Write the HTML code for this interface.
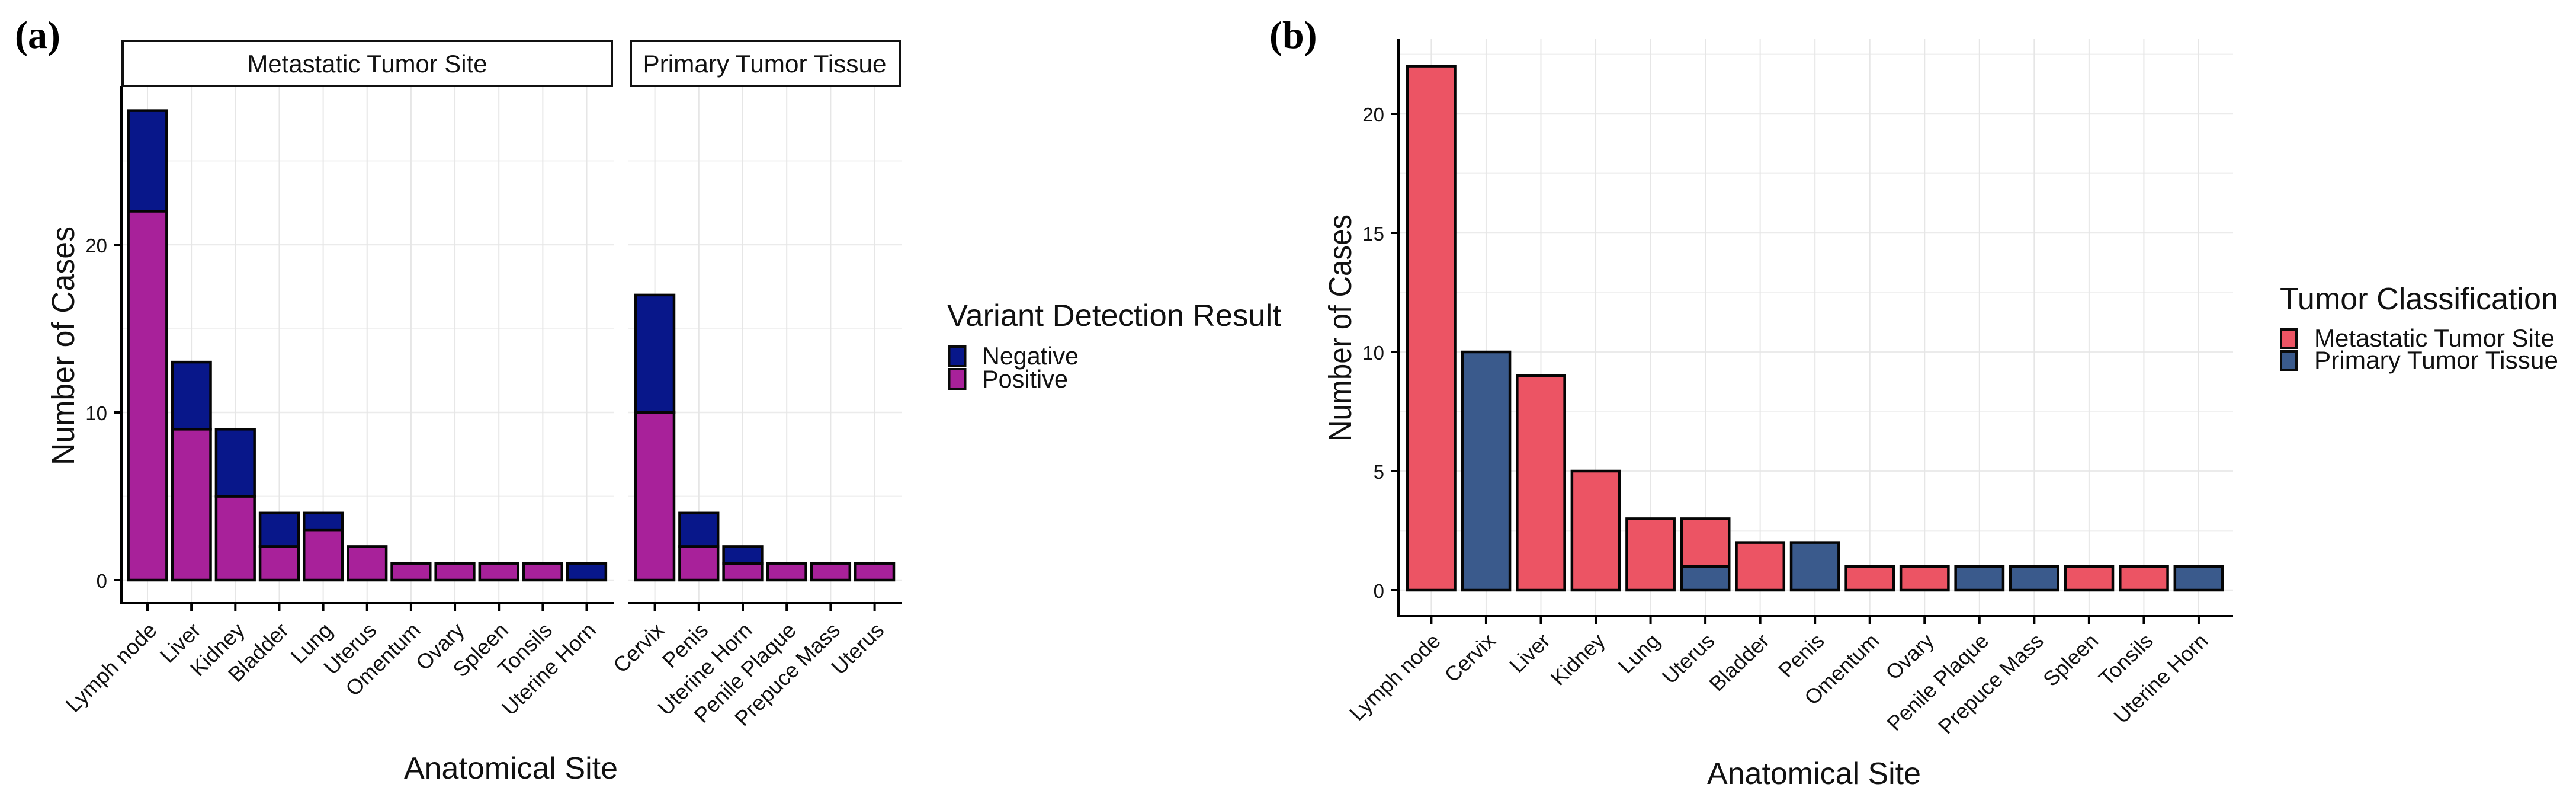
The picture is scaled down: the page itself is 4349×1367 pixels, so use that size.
<!DOCTYPE html>
<html lang="en">
<head>
<meta charset="utf-8">
<title>Anatomical site charts</title>
<style>
html,body{margin:0;padding:0;background:#fff;width:4349px;height:1367px;overflow:hidden}
svg{display:block}
text{font-family:"Liberation Sans",Arial,sans-serif;fill:#111}
.serif{font-family:"Liberation Serif",serif;font-weight:bold;fill:#000}
</style>
</head>
<body>
<svg id="figure" xmlns="http://www.w3.org/2000/svg" width="4349" height="1367" viewBox="0 0 4349 1367">
  <rect width="4349" height="1367" fill="#fff"/>
  <g id="chart-a"></g>
  <g id="chart-b"></g>

  <text class="serif" x="25" y="81" font-size="66">(a)</text>
  <text class="serif" x="2143" y="81" font-size="66">(b)</text>

  <rect x="207" y="69" width="826" height="76" fill="#fff" stroke="#111" stroke-width="4"/>
  <text x="620" y="122" font-size="42" text-anchor="middle" textLength="405" lengthAdjust="spacingAndGlyphs">Metastatic Tumor Site</text>
  <rect x="1065" y="69" width="454" height="76" fill="#fff" stroke="#111" stroke-width="4"/>
  <text x="1291" y="122" font-size="42" text-anchor="middle" textLength="411" lengthAdjust="spacingAndGlyphs">Primary Tumor Tissue</text>

  <text transform="translate(125,583.5) rotate(-90)" font-size="54" text-anchor="middle" textLength="403" lengthAdjust="spacingAndGlyphs">Number of Cases</text>
  <text x="862.5" y="1314" font-size="52" text-anchor="middle" textLength="361" lengthAdjust="spacingAndGlyphs">Anatomical Site</text>
  <text transform="translate(2281,553.5) rotate(-90)" font-size="54" text-anchor="middle" textLength="383" lengthAdjust="spacingAndGlyphs">Number of Cases</text>
  <text x="3062.5" y="1323" font-size="52" text-anchor="middle" textLength="361" lengthAdjust="spacingAndGlyphs">Anatomical Site</text>

  <g>
    <text x="1599" y="550" font-size="52" textLength="564" lengthAdjust="spacingAndGlyphs">Variant Detection Result</text>
    <rect x="1602.5" y="585" width="27" height="33" fill="#08178A" stroke="#0a0a0a" stroke-width="4"/>
    <rect x="1602.5" y="623" width="27" height="33" fill="#A8219A" stroke="#0a0a0a" stroke-width="4"/>
    <text x="1658" y="615" font-size="41.5" textLength="163" lengthAdjust="spacingAndGlyphs">Negative</text>
    <text x="1658" y="654" font-size="41.5" textLength="145" lengthAdjust="spacingAndGlyphs">Positive</text>
  </g>
  <g>
    <text x="3849" y="522" font-size="52" textLength="470" lengthAdjust="spacingAndGlyphs">Tumor Classification</text>
    <rect x="3851" y="556" width="26" height="31" fill="#EC5464" stroke="#0a0a0a" stroke-width="4"/>
    <rect x="3851" y="593" width="26" height="31" fill="#3A5A8C" stroke="#0a0a0a" stroke-width="4"/>
    <text x="3907" y="585" font-size="41.5" textLength="406" lengthAdjust="spacingAndGlyphs">Metastatic Tumor Site</text>
    <text x="3907" y="622" font-size="41.5" textLength="412" lengthAdjust="spacingAndGlyphs">Primary Tumor Tissue</text>
  </g>
</svg>

<script>
/* Chart (a): variant detection result by anatomical site */
const metastaticSites = ["Lymph node","Liver","Kidney","Bladder","Lung","Uterus","Omentum","Ovary","Spleen","Tonsils","Uterine Horn"];
const metastaticPositive = [22,9,5,2,3,2,1,1,1,1,0];
const metastaticNegative = [6,4,4,2,1,0,0,0,0,0,1];
const primarySites = ["Cervix","Penis","Uterine Horn","Penile Plaque","Prepuce Mass","Uterus"];
const primaryPositive = [10,2,1,1,1,1];
const primaryNegative = [7,2,1,0,0,0];
const chartATicks = [0,10,20];
const chartAMinorTicks = [5,15,25];

/* Chart (b): tumor classification by anatomical site */
const allSites = ["Lymph node","Cervix","Liver","Kidney","Lung","Uterus","Bladder","Penis","Omentum","Ovary","Penile Plaque","Prepuce Mass","Spleen","Tonsils","Uterine Horn"];
const metastaticCases = [22,0,9,5,3,2,2,0,1,1,0,0,1,1,0];
const primaryCases = [0,10,0,0,0,1,0,2,0,0,1,1,0,0,1];
const chartBTicks = [0,5,10,15,20];
const chartBMinorTicks = [2.5,7.5,12.5,17.5,22.5];

const SVGNS = "http://www.w3.org/2000/svg";
const NAVY = "#08178A", PURPLE = "#A8219A", CORAL = "#EC5464", STEEL = "#3A5A8C";

function mk(tag, attrs, parent) {
  const el = document.createElementNS(SVGNS, tag);
  for (const k in attrs) el.setAttribute(k, attrs[k]);
  parent.appendChild(el);
  return el;
}
function slug(s) { return String(s).toLowerCase().replace(/[^a-z0-9]+/g, "-"); }

/* axis scales */
function yScale(zeroY, pxPerUnit) { return v => zeroY - v * pxPerUnit; }
function xScale(firstX, step) { return i => firstX + i * step; }

function drawPanel(root, p) {
  const y = yScale(p.zeroY, p.pxPerUnit);
  const x = xScale(p.firstX, p.step);
  const barW = p.step * 0.9 - p.barTrim;

  /* gridlines */
  p.minor.forEach(v => {
    const l = mk("line", {x1:p.left, x2:p.right, y1:y(v), y2:y(v), stroke:"#f1f1f1", "stroke-width":2}, root);
    
    
  });
  p.major.forEach(v => {
    const l = mk("line", {x1:p.left, x2:p.right, y1:y(v), y2:y(v), stroke:"#ebebeb", "stroke-width":2.5}, root);
    
    
  });
  p.cats.forEach((c, i) => {
    const l = mk("line", {x1:x(i), x2:x(i), y1:p.top, y2:p.bottom, stroke:"#e6e6e6", "stroke-width":2}, root);
    
    
  });

  /* stacked bars: first series sits at the bottom */
  p.cats.forEach((c, i) => {
    let base = 0;
    p.series.forEach(s => {
      const v = s.values[i];
      if (v > 0) {
        const r = mk("rect", {x:x(i) - barW / 2, y:y(base + v), width:barW, height:y(base) - y(base + v), fill:s.color, stroke:"#050505", "stroke-width":4.5}, root);
        
        
      }
      base += v;
    });
  });

  /* x axis */
  const xa = mk("line", {x1:p.left, x2:p.right, y1:p.bottom, y2:p.bottom, stroke:"#000", "stroke-width":4}, root);
  
  
  p.cats.forEach((c, i) => {
    const t = mk("line", {x1:x(i), x2:x(i), y1:p.bottom, y2:p.bottom + 13, stroke:"#000", "stroke-width":4}, root);
    
    
    const lab = mk("text", {transform:"translate(" + (x(i) + 18) + "," + (p.bottom + p.labelDrop) + ") scale(1," + p.labelSquash + ") rotate(-45)", "font-size":36.5, "text-anchor":"end"}, root);
    lab.textContent = c;
    
    
  });

  /* y axis */
  if (p.yAxis) {
    const ya = mk("line", {x1:p.left, x2:p.left, y1:p.top, y2:p.bottom + 2, stroke:"#000", "stroke-width":4}, root);
    
    
    p.major.forEach(v => {
      const t = mk("line", {x1:p.left - 12, x2:p.left, y1:y(v), y2:y(v), stroke:"#000", "stroke-width":4}, root);
      
      
      const lab = mk("text", {x:p.left - 24, y:y(v) + 13, "font-size":33, "text-anchor":"end"}, root);
      lab.textContent = v;
      
      
    });
  }
}

const rootA = document.getElementById("chart-a");
const rootB = document.getElementById("chart-b");

drawPanel(rootA, {
  cats: metastaticSites,
  series: [{name:"positive", color:PURPLE, values:metastaticPositive},
           {name:"negative", color:NAVY, values:metastaticNegative}],
  major: chartATicks, minor: chartAMinorTicks,
  zeroY: 979, pxPerUnit: 28.3, firstX: 249, step: 74.15, barTrim: 2, labelSquash: 0.98,
  left: 205, right: 1037, top: 145, bottom: 1018, labelDrop: 48, yAxis: true
});
drawPanel(rootA, {
  cats: primarySites,
  series: [{name:"positive", color:PURPLE, values:primaryPositive},
           {name:"negative", color:NAVY, values:primaryNegative}],
  major: chartATicks, minor: chartAMinorTicks,
  zeroY: 979, pxPerUnit: 28.3, firstX: 1105.6, step: 74.2, barTrim: 2, labelSquash: 0.98,
  left: 1060, right: 1522, top: 145, bottom: 1018, labelDrop: 48, yAxis: false
});
drawPanel(rootB, {
  cats: allSites,
  series: [{name:"primary", color:STEEL, values:primaryCases},
           {name:"metastatic", color:CORAL, values:metastaticCases}],
  major: chartBTicks, minor: chartBMinorTicks,
  zeroY: 996, pxPerUnit: 40.2, firstX: 2416.4, step: 92.54, barTrim: 3, labelSquash: 0.95,
  left: 2361, right: 3770, top: 66, bottom: 1040, labelDrop: 44, yAxis: true
});
</script>
</body>
</html>
